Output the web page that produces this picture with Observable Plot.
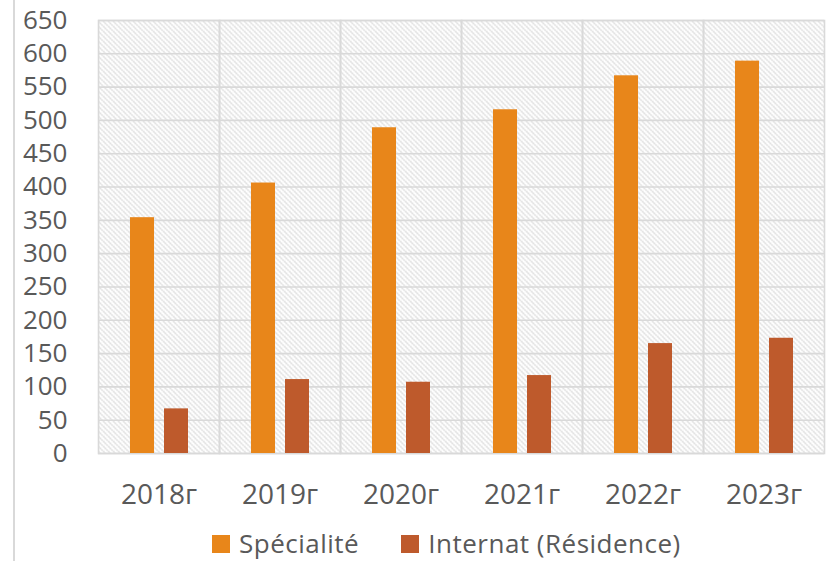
<!DOCTYPE html>
<html>
<head>
<meta charset="utf-8">
<script src="https://cdn.jsdelivr.net/npm/d3@7"></script>
<script src="https://cdn.jsdelivr.net/npm/@observablehq/plot@0.6"></script>
<style>
  html, body { margin: 0; padding: 0; background: #fff; }
  #wrap { position: relative; width: 831px; height: 561px; overflow: hidden; font-family: "Open Sans", sans-serif; }
  #edge { position: absolute; left: 13px; top: 0; width: 2px; height: 561px; background: #d9d9d9; }
  #legend { position: absolute; left: 212px; top: 530px; height: 27px; display: flex; align-items: center; font-size: 26px; line-height: 27px; letter-spacing: 0.5px; color: #595959; white-space: nowrap; }
  #legend .item { display: flex; align-items: center; margin-right: 42px; }
  #legend .sw { width: 18px; height: 18px; margin-right: 9px; }
</style>
</head>
<body>
<div id="wrap">
  <div id="edge"></div>
  <div id="chart"></div>
  <div id="legend"></div>
</div>
<script>
const years = ["2018г", "2019г", "2020г", "2021г", "2022г", "2023г"];
const seriesNames = ["Spécialité", "Internat (Résidence)"];
const specialite = [354, 406, 489, 516, 567, 589];
const internat = [67, 111, 107, 117, 165, 173];
const yTicks = [0, 50, 100, 150, 200, 250, 300, 350, 400, 450, 500, 550, 600, 650];
const colors = ["#E8861A", "#BE5A2C"];

const data = [];
years.forEach((y, i) => {
  data.push({year: y, series: seriesNames[0], value: specialite[i]});
  data.push({year: y, series: seriesNames[1], value: internat[i]});
});

const plot = Plot.plot({
  width: 831,
  height: 520,
  marginLeft: 96,
  marginRight: 6,
  marginTop: 20,
  marginBottom: 67,
  style: {fontFamily: "Open Sans, sans-serif", color: "#595959", background: "#fff", overflow: "visible"},
  fx: {domain: years, padding: 0, label: null},
  x: {domain: seriesNames, paddingInner: 0.304, paddingOuter: 0.912, axis: null},
  y: {domain: [0, 650], label: null},
  color: {domain: seriesNames, range: colors},
  marks: [
    Plot.frame({fill: "url(#hatch)", stroke: null}),
    Plot.gridY(yTicks, {stroke: "#d9d9d9", strokeOpacity: 1, strokeWidth: 1.6}),
    Plot.frame({stroke: "#d9d9d9", strokeWidth: 1.6, strokeOpacity: 1}),
    Plot.barY(data, {fx: "year", x: "series", y: "value", fill: "series"}),
    Plot.axisY(yTicks, {tickSize: 0, tickPadding: 31, fontSize: 26, label: null, fill: "#595959"}),
    Plot.axisFx({anchor: "bottom", tickSize: 0, tickPadding: 31, fontSize: 28, label: null, fill: "#595959"})
  ]
});

const ns = "http://www.w3.org/2000/svg";
const defs = document.createElementNS(ns, "defs");
defs.innerHTML = '<pattern id="hatch" patternUnits="userSpaceOnUse" width="5" height="5">' +
  '<rect width="5" height="5" fill="#ffffff"/>' +
  '<path d="M-1,-1 L6,6 M-1,4 L1,6 M4,-1 L6,1" stroke="#c6c6c6" stroke-width="1.2" stroke-dasharray="1.5 0.9"/>' +
  '</pattern>';
plot.insertBefore(defs, plot.firstChild);
document.getElementById("chart").appendChild(plot);

const legend = document.getElementById("legend");
seriesNames.forEach((s, i) => {
  const item = document.createElement("div");
  item.className = "item";
  const sw = document.createElement("span");
  sw.className = "sw";
  sw.style.background = colors[i];
  const t = document.createElement("span");
  t.textContent = s;
  item.appendChild(sw);
  item.appendChild(t);
  legend.appendChild(item);
});
</script>
</body>
</html>
